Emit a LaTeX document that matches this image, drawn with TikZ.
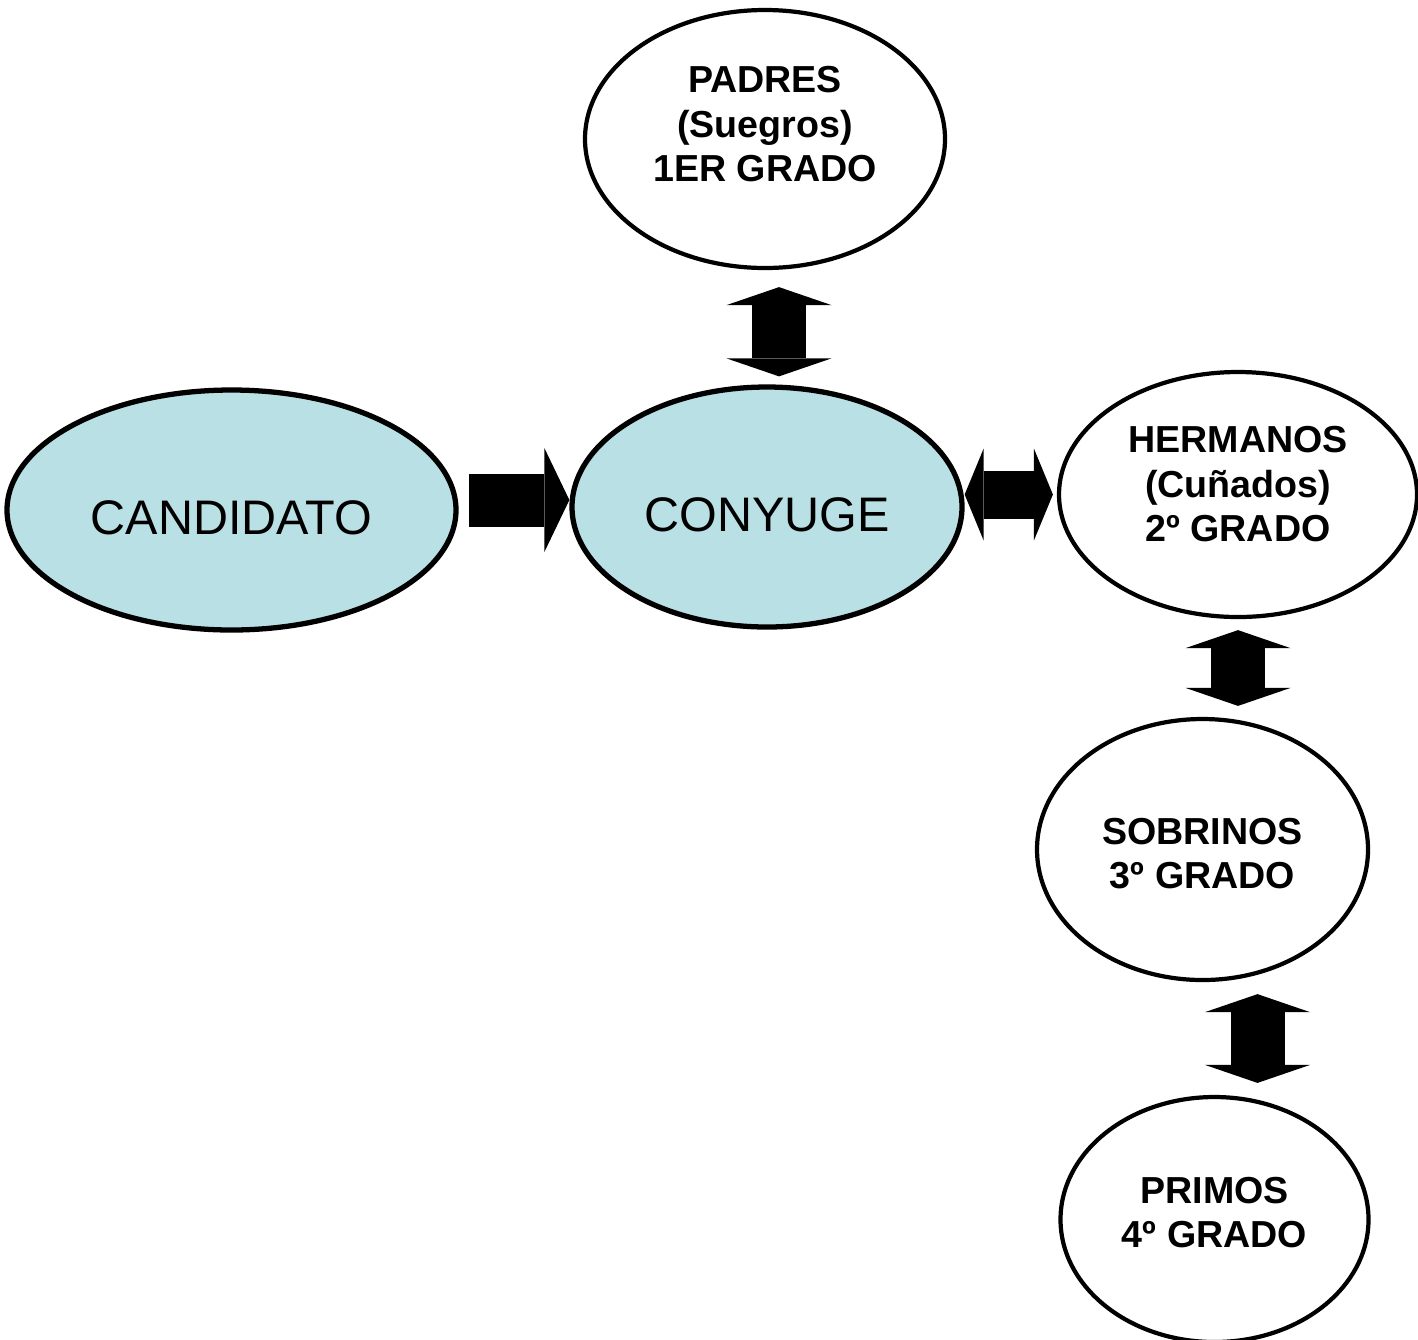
\documentclass[tikz,border=0pt]{standalone}
\usepackage{fontspec}
\setmainfont{Liberation Sans}
\usepackage{tikz}
\usetikzlibrary{arrows.meta, shapes.geometric}
\definecolor{paleblue}{RGB}{185,224,228}

\begin{document}
\begin{tikzpicture}[>={Triangle[length=0.18cm, width=1.05cm, line width=0pt]},
fat/.style={line width=0.54cm}, slim/.style={line width=0.48cm,
>={Triangle[length=0.19cm, width=0.92cm, line width=0pt]}},
grado/.style={ellipse, draw, line width=1.2pt, inner sep=0pt, align=center,
font=\fontsize{10.7pt}{12.6pt}\selectfont\bfseries},
main/.style={grado, fill=paleblue, line width=1.5pt,
font=\fontsize{13.8pt}{16pt}\selectfont}]
  \useasboundingbox (0,0) rectangle (14.18,-13.39);
  % candidato y conyuge
  \node[main, minimum width=4.49cm, minimum height=2.40cm] (cand) at (2.315,-5.10) {\rule{0pt}{5mm}CANDIDATO};
  \node[main, minimum width=3.90cm, minimum height=2.40cm] (cony) at (7.67,-5.07)  {\rule{0pt}{5mm}CONYUGE};
  % grados
  \node[grado, minimum width=3.60cm, minimum height=2.58cm] (padres) at (7.65,-1.39)   {PADRES\\(Suegros)\\1ER GRADO\rule[-3mm]{0pt}{0pt}};
  \node[grado, minimum width=3.58cm, minimum height=2.45cm] (herm)   at (12.38,-4.945) {HERMANOS\\(Cuñados)\\2º GRADO\rule[-2.1mm]{0pt}{0pt}};
  \node[grado, minimum width=3.31cm, minimum height=2.61cm] (sobr)   at (12.025,-8.495) {\rule{0pt}{3.5mm}SOBRINOS\\3º GRADO};
  \node[grado, minimum width=3.08cm, minimum height=2.45cm] (prim)   at (12.145,-12.195) {PRIMOS\\4º GRADO\rule[-1.4mm]{0pt}{0pt}};

  % flechas
  \draw[fat, line width=0.53cm, -{Triangle[length=0.25cm, width=1.04cm, line width=0pt]}, shorten <=0.1cm]
    ([yshift=1mm]cand.east) -- ([yshift=1mm]cand.east -| cony.west);
  \draw[slim, <->, shorten >=0.04cm] (cony.east |- herm.west) -- (herm.west);
  \draw[fat, <->, shorten <=0.17cm, shorten >=0.08cm]
    ([xshift=1.4mm]padres.south) -- ([xshift=1.4mm]padres.south |- cony.north);
  \draw[fat, <->, shorten <=0.11cm, shorten >=0.11cm] (herm.south) -- (herm.south |- sobr.north);
  \draw[fat, <->, shorten <=0.12cm, shorten >=0.12cm]
    ([xshift=4.3mm]prim.north |- sobr.south) -- ([xshift=4.3mm]prim.north);
\end{tikzpicture}
\end{document}
